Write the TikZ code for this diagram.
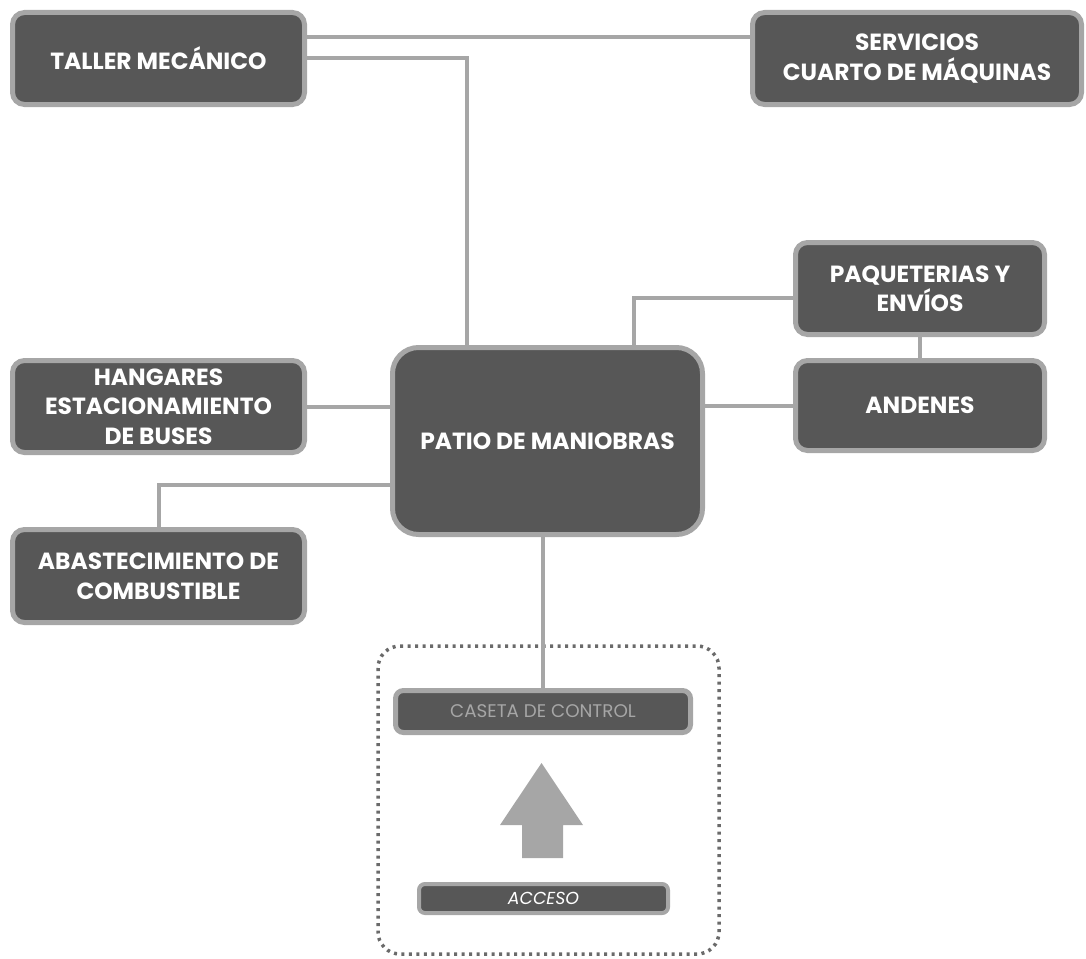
\documentclass[tikz,border=0pt]{standalone}
\usepackage{fontspec}
\setmainfont{Poppins}
\usetikzlibrary{positioning}
\definecolor{relleno}{HTML}{575757}
\definecolor{borde}{HTML}{A6A6A6}
\definecolor{puntos}{HTML}{6A6A6A}
\tikzset{
  bloque/.style={draw=borde, fill=relleno, line width=5pt, rounded corners=12pt,
    text=white, align=center, inner sep=0pt,
    font=\bfseries\fontsize{23.4}{29.5}\selectfont},
  enlace/.style={draw=borde, line width=4pt},
}

\begin{document}
\begin{tikzpicture}[x=1pt,y=-1pt]
  \useasboundingbox (0,0) rectangle (1086,958);
  % zona de acceso
  \draw[puntos, line width=3.5pt, dash pattern=on 3pt off 4.5pt, rounded corners=22pt]
    (378,646) rectangle (719,954);
  % bloques
  \node[bloque, minimum width=292, minimum height=92] (taller) at (158.5,58.5) {TALLER MECÁNICO};
  \node[bloque, minimum width=329, minimum height=92] (servicios) at (917,58.5) {SERVICIOS\\CUARTO DE MÁQUINAS};
  \node[bloque, minimum width=249, minimum height=92] (paqueteria) at (920,288.5) {PAQUETERIAS Y\\ENVÍOS};
  \node[bloque, minimum width=249, minimum height=90] (andenes) at (920,405.5) {ANDENES};
  \node[bloque, minimum width=292, minimum height=92] (hangares) at (158.5,406.5) {HANGARES\\ESTACIONAMIENTO\\DE BUSES};
  \node[bloque, minimum width=292, minimum height=93] (combustible) at (158.5,576) {ABASTECIMIENTO DE\\COMBUSTIBLE};
  \node[bloque, minimum width=310, minimum height=187, rounded corners=26pt] (patio) at (547.5,441) {PATIO DE MANIOBRAS};
  \node[bloque, minimum width=295, minimum height=42, rounded corners=8pt,
    font=\fontsize{18.3}{22}\selectfont, text=borde] (caseta) at (543,711.5) {CASETA DE CONTROL};
  \node[bloque, minimum width=249, minimum height=29, line width=4pt, rounded corners=6pt,
    font=\itshape\fontsize{17.4}{20}\selectfont] (acceso) at (543.5,898.5) {ACCESO};
  % flecha de entrada
  \fill[borde] (500,825) -- (541.5,763) -- (583,825) -- (563,825) -- (563,858)
    -- (522,858) -- (522,825) -- cycle;
  % conexiones
  \draw[enlace] ([yshift=21.5pt]taller.east) -- ([yshift=21.5pt]taller.east -| servicios.west);
  \draw[enlace] (taller.east) -| ([xshift=-80.5pt]patio.north);
  \draw[enlace] ([yshift=-9pt]paqueteria.west) -| ([xshift=86.5pt]patio.north);
  \draw[enlace] (paqueteria.south) -- (andenes.north);
  \draw[enlace] (andenes.west) -- (andenes.west -| patio.east);
  \draw[enlace] (hangares.east) -- (hangares.east -| patio.west);
  \draw[enlace] (combustible.north) |- ([yshift=-44pt]patio.west);
  \draw[enlace] (caseta.north) -- (caseta.north |- patio.south);
\end{tikzpicture}
\end{document}
